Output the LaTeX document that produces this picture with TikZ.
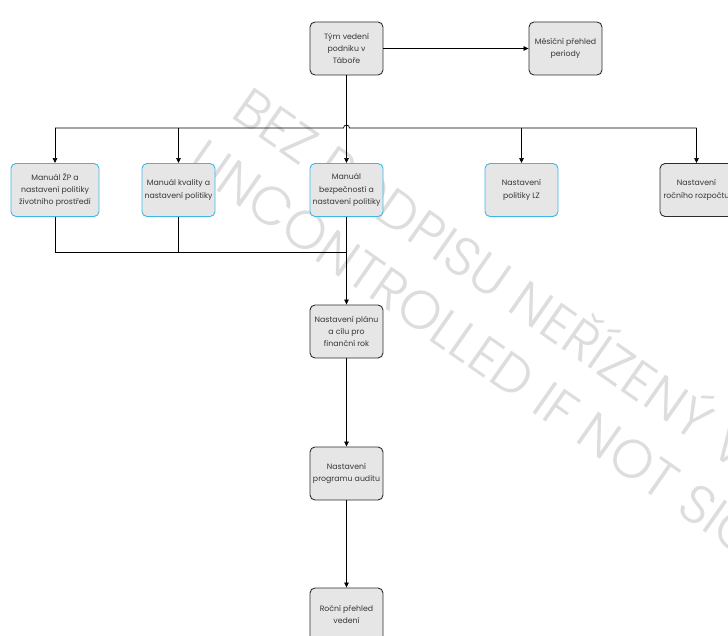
\documentclass[tikz,border=0pt]{standalone}
\usepackage{fontspec}
\setmainfont{Poppins}
\newfontfamily\wmfont{Poppins Light}
\usetikzlibrary{arrows.meta}
\definecolor{BoxFill}{RGB}{230,230,230}
\definecolor{BoxLine}{RGB}{45,45,45}
\definecolor{BoxBlue}{RGB}{60,184,232}
\definecolor{BoxText}{RGB}{55,55,55}
\definecolor{WaterMark}{RGB}{221,221,221}

\begin{document}
\begin{tikzpicture}[
    x=1pt, y=-1pt,
    box/.style={draw=BoxLine, fill=BoxFill, rounded corners=5pt, line width=0.9pt, minimum width=73pt, minimum height=53pt, inner sep=1pt, align=center, text=BoxText, font=\fontsize{7.8}{12.3}\selectfont},
    bluebox/.style={box, draw=BoxBlue},
    conn/.style={draw=black, line width=0.7pt},
    arr/.style={conn, -{Triangle[length=5pt,width=4.5pt]}},
    wm/.style={rotate=-35, anchor=base west, text=WaterMark, inner sep=0pt, font=\wmfont\fontsize{54}{54}\selectfont}
]
    \useasboundingbox (0,0) rectangle (728,636);
    \clip (0,0) rectangle (728,636);

    \node[wm] (wm1) at (229,116) {BEZ PODPISU NEŘÍZENÝ V};
    \node[wm] (wm2) at (184,168) {UNCONTROLLED IF NOT SIG};

    \node[box] (tym) at (346.5,48.5) {Tým vedení\\podniku v\\Táboře};
    \node[box] (mesic) at (565.5,48.5) {Měsíční přehled\\periody};
    \node[bluebox, minimum width=88pt] (zp) at (55,190) {Manuál ŽP a\\nastavení politiky\\životního prostředí};
    \node[bluebox] (kval) at (178.5,190) {Manuál kvality a\\nastavení politiky};
    \node[bluebox] (bezp) at (346.5,190) {Manuál\\bezpečností a\\nastavení politiky};
    \node[bluebox] (lz) at (521.5,190) {Nastavení\\politiky LZ};
    \node[box] (rozp) at (696.5,190) {Nastavení\\ročního rozpočtu};
    \node[box] (plan) at (346.5,331.5) {Nastavení plánu\\a cílu pro\\finanční rok};
    \node[box] (audit) at (346.5,473.5) {Nastavení\\programu auditu};
    \node[box] (rocni) at (346.5,614.5) {Roční přehled\\vedení};

    \coordinate (bus) at (0,128);
    \coordinate (merge) at (0,252);

    \draw[arr] (tym) -- (mesic);
    \draw[arr] (tym) -- (bezp);
    \draw[conn] (bus -| zp) -- ([xshift=-3pt]bus -| tym) arc (180:0:3pt) -- (bus -| rozp);
    \draw[arr] (bus -| zp) -- (zp);
    \draw[arr] (bus -| kval) -- (kval);
    \draw[arr] (bus -| lz) -- (lz);
    \draw[arr] (bus -| rozp) -- (rozp);
    \draw[conn] (zp) -- (merge -| zp) -- (merge -| bezp);
    \draw[conn] (kval) -- (merge -| kval);
    \draw[arr] (bezp) -- (plan);
    \draw[arr] (plan) -- (audit);
    \draw[arr] (audit) -- (rocni);
\end{tikzpicture}
\end{document}
